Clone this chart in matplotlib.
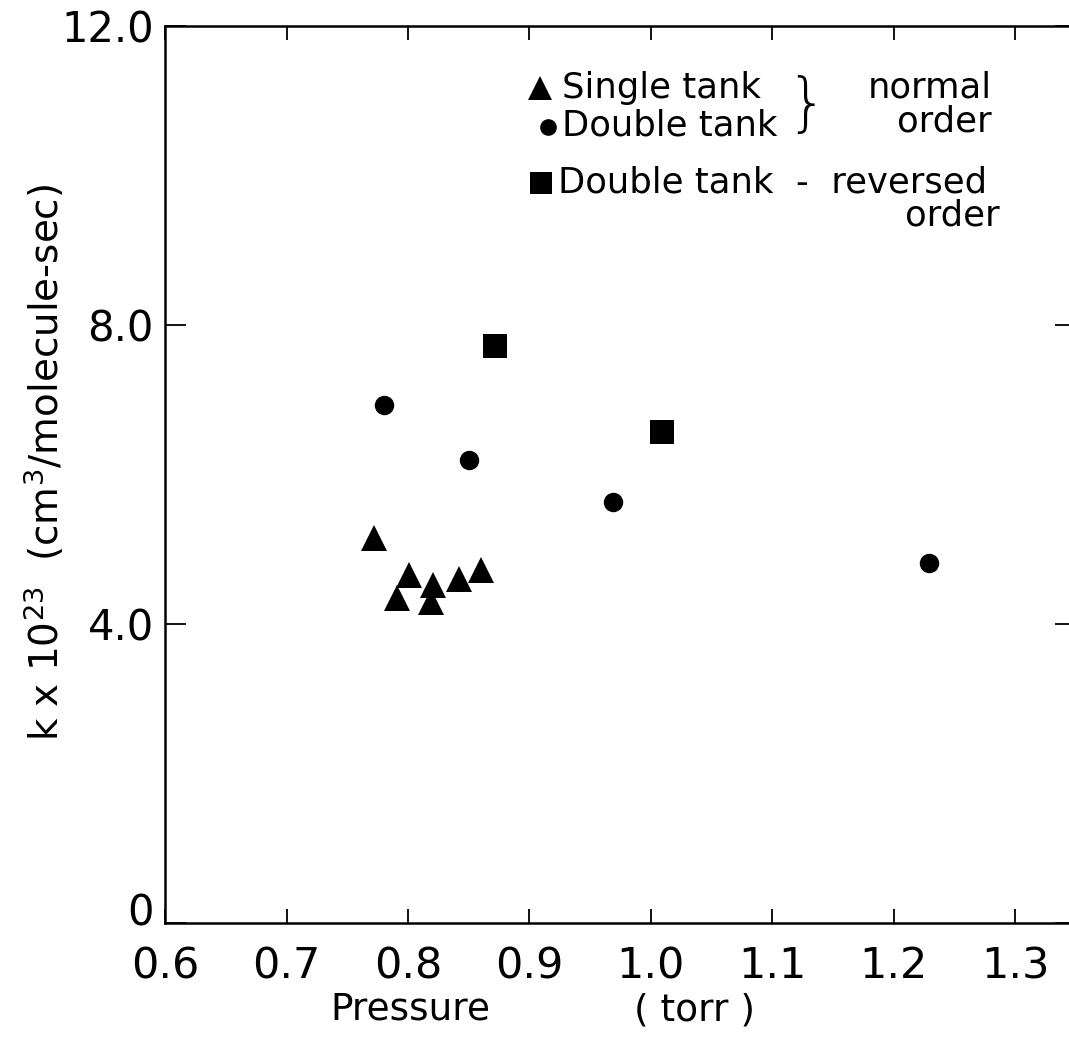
import matplotlib

matplotlib.use("Agg")
import matplotlib.pyplot as plt
from matplotlib.transforms import ScaledTranslation

# Rate constant vs. pressure, three run configurations
single_p = [0.772, 0.801, 0.791, 0.821, 0.819, 0.842, 0.860]
single_k = [5.15, 4.66, 4.35, 4.52, 4.29, 4.60, 4.72]

double_p = [0.780, 0.850, 0.969, 1.229]
double_k = [6.93, 6.19, 5.63, 4.82]

reversed_p = [0.872, 1.009]
reversed_k = [7.72, 6.57]

x_ticks = [0.6, 0.7, 0.8, 0.9, 1.0, 1.1, 1.2, 1.3]
x_labels = ["0.6", "0.7", "0.8", "0.9", "1.0", "1.1", "1.2", "1.3"]
y_ticks = [0, 4, 8, 12]
y_labels = ["0", "4.0", "8.0", "12.0"]

plt.rcParams["font.family"] = ["DejaVu Sans"]

fig = plt.figure(figsize=(10.69, 10.48), dpi=100)
# right edge of the frame runs just past the page
ax = fig.add_axes([0.1544, 0.1193, 0.8522, 0.8559])

ax.plot(single_p, single_k, "^", color="black", ms=19, mew=0, clip_on=False)
ax.plot(double_p, double_k, "o", color="black", ms=14, mew=0, clip_on=False)
ax.plot(reversed_p, reversed_k, "s", color="black", ms=17, mew=0, clip_on=False)

ax.set_xlim(0.6, 1.35)
ax.set_ylim(0, 12)

for side in ["left", "bottom", "top", "right"]:
    ax.spines[side].set_linewidth(1.8)

ax.set_xticks(x_ticks)
ax.set_xticklabels(x_labels, fontsize=31)
ax.set_yticks(y_ticks)
ax.set_yticklabels(y_labels, fontsize=30)
ax.tick_params(axis="x", direction="in", length=10, width=1.3, pad=16, top=True)
ax.tick_params(axis="y", direction="in", length=15, width=1.3, pad=8, right=True)

# lift the "0" label a little so it clears "0.6"
zero = ax.get_yticklabels()[0]
zero.set_transform(zero.get_transform()
                   + ScaledTranslation(0, 10 / 72, fig.dpi_scale_trans))

fig.text(410 / 1069, 1 - 1010 / 1048, "Pressure", fontsize=27,
         ha="center", va="center")
fig.text(695 / 1069, 1 - 1010 / 1048, "( torr )", fontsize=27,
         ha="center", va="center")
fig.text(45 / 1069, 1 - 462 / 1048, r"k x 10$^{23}$  (cm$^3$/molecule-sec)",
         fontsize=28, rotation=90, ha="center", va="center")

# key drawn in axes coordinates
tr = ax.transAxes
def ax_pt(px, py):
    # page pixel position -> axes fraction
    return (px - 165) / 911, (923 - py) / 897

ax.plot(*ax_pt(540, 88), "^", color="black", ms=17, mew=0, transform=tr)
ax.plot(*ax_pt(548, 127), "o", color="black", ms=12, mew=0, transform=tr)
ax.plot(*ax_pt(541, 183), "s", color="black", ms=16, mew=0, transform=tr)

txt = dict(fontsize=25.5, va="center", transform=tr)
ax.text(*ax_pt(562, 88), "Single tank", ha="left", **txt)
ax.text(*ax_pt(562, 126), "Double tank", ha="left", **txt)
ax.text(*ax_pt(806, 106), "}", ha="center", fontsize=46, va="center",
        transform=tr, fontweight="light")
ax.text(*ax_pt(992, 88), "normal", ha="right", **txt)
ax.text(*ax_pt(992, 122), "order", ha="right", **txt)
ax.text(*ax_pt(558, 183), "Double tank  -  reversed", ha="left", **txt)
ax.text(*ax_pt(1000, 216), "order", ha="right", **txt)

fig.savefig("out.png", dpi=100)
